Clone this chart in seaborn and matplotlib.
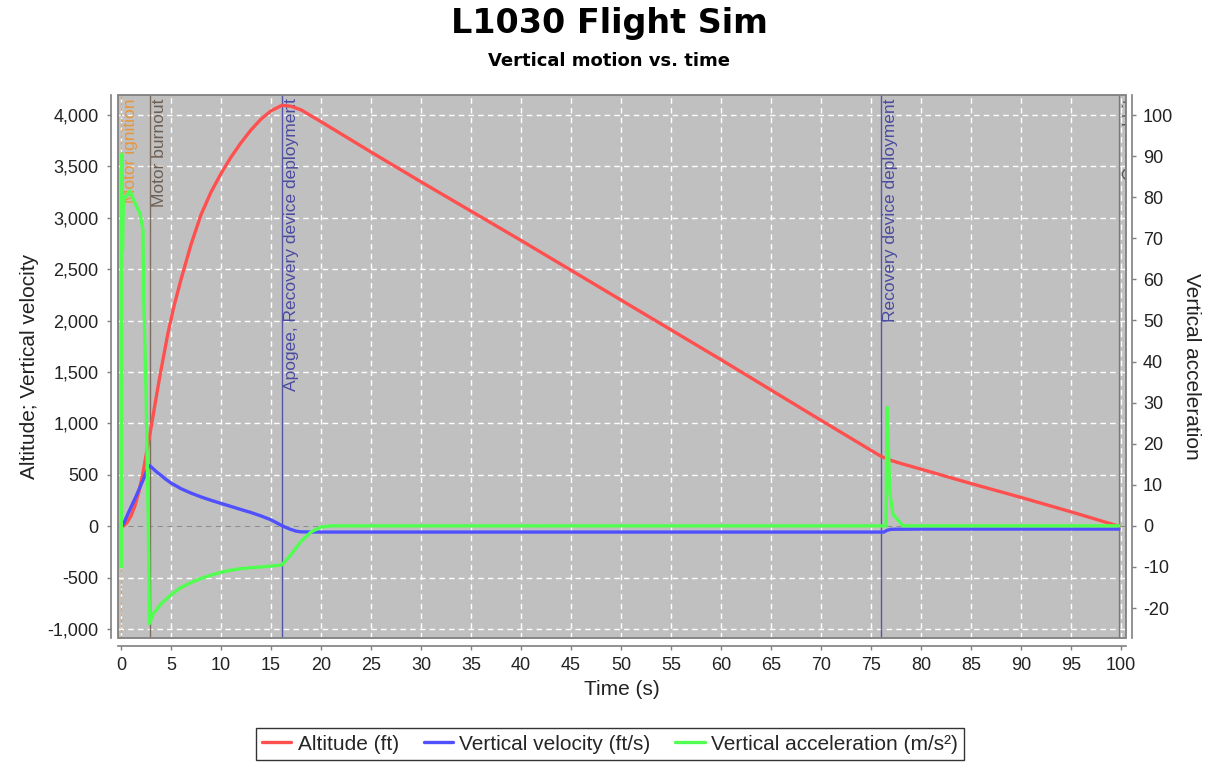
import matplotlib
matplotlib.use("Agg")
import matplotlib.pyplot as plt
import matplotlib.ticker as mticker
import matplotlib.transforms as mtransforms
from matplotlib.patches import Rectangle
from matplotlib.lines import Line2D
import pandas as pd
import seaborn as sns

# ---------------- data ----------------
alt_time = [0, 0.3, 0.6, 1.0, 1.4, 1.8, 2.2, 2.6, 2.9, 3.2, 3.6, 4.0, 4.7, 5.3, 6.0,
            7.0, 8.0, 9.0, 10.0, 11.0, 12.0, 13.0, 14.0, 15.0, 16.1, 17.0, 18.0, 20.0,
            25.0, 30.0, 40.0, 50.0, 60.0, 70.0, 76.0, 77.0, 78.0, 80.0, 85.0, 90.0,
            95.0, 99.8]
alt_ft = [0, 5, 35, 100, 200, 340, 520, 740, 900, 1070, 1300, 1520, 1880, 2140, 2400,
          2740, 3030, 3250, 3430, 3590, 3730, 3855, 3960, 4040, 4095, 4085, 4050, 3935,
          3640, 3350, 2780, 2200, 1620, 1030, 680, 640, 610, 555, 415, 280,
          140, 0]

vel_time = [0, 0.3, 0.6, 1.0, 1.5, 1.9, 2.3, 2.7, 2.9, 3.2, 3.6, 4.0, 4.5, 5.0, 6.0,
            7.0, 8.0, 9.0, 10.0, 11.0, 12.0, 13.0, 14.0, 15.0, 16.1, 16.8, 17.5, 18.0,
            20.0, 30.0, 40.0, 50.0, 60.0, 70.0, 76.3, 76.6, 77.0, 80.0, 90.0, 99.8]
vel_fts = [0, 30, 100, 185, 290, 380, 470, 570, 588, 560, 525, 495, 455, 420, 365,
           322, 285, 252, 222, 192, 162, 133, 100, 62, 5, -25, -48, -55,
           -57, -57, -57, -57, -57, -57, -57, -40, -30, -28, -28, -28]

acc_time = [0, 0.03, 0.08, 0.15, 0.25, 0.45, 0.9, 1.5, 1.9, 2.2, 2.25, 2.5, 2.73, 2.85,
            3.2, 4.0, 5.0, 6.0, 7.0, 8.0, 9.0, 10.0, 11.0, 12.0, 13.0, 14.0, 15.0, 16.1,
            17.0, 18.0, 19.0, 20.0, 21.0, 76.5, 76.6, 76.75, 76.9, 77.2, 78.2, 99.8]
acc_ms2 = [0, -10, 90.5, 67, 80, 80, 81.5, 78, 76, 72, 58, 33, 0, -23.8,
           -21.5, -19, -16.8, -15, -13.8, -12.8, -12, -11.3, -10.8, -10.4, -10.2, -10, -9.8, -9.5,
           -7, -3.8, -1.5, -0.3, 0, 0, 28.8, 18, 7.7, 2.8, 0, 0]

event_times = [0.0, 2.9, 16.1, 76.0, 99.8]
event_labels = ["Motor ignition", "Motor burnout", "Apogee, Recovery device deployment",
                "Recovery device deployment", "Ground hit"]

series_names = ["Altitude (ft)", "Vertical velocity (ft/s)", "Vertical acceleration (m/s\u00b2)"]

title = "L1030 Flight Sim"
subtitle = "Vertical motion vs. time"
x_label = "Time (s)"
y_label_left = "Altitude; Vertical velocity"
y_label_right = "Vertical acceleration"

# ---------------- styles ----------------
C_ALT = "#ff5050"
C_VEL = "#5050ff"
C_ACC = "#50ff50"
event_styles = [("#e8a35a", (0, (2, 2))), ("#7d6e62", "-"), ("#5656a8", "-"),
                ("#5656a8", "-"), ("#7a7a7a", "-")]
event_text_colors = ["#e8963c", "#6e5f54", "#4a4aa0", "#4a4aa0", "#555555"]
event_text_dx = [1.5, 1.5, 1.5, 1.5, 3.0]

sns.set_theme(style="white")
plt.rcParams["font.family"] = ["Liberation Sans", "DejaVu Sans"]
plt.rcParams["axes.unicode_minus"] = False

W, H = 1214, 765
fig = plt.figure(figsize=(W / 100, H / 100), dpi=100)
fig.subplots_adjust(left=118 / W, right=1126 / W, top=1 - 95 / H, bottom=1 - 638 / H)
ax = fig.add_subplot(111)
ax2 = ax.twinx()

ax.set_facecolor("#c0c0c0")
ax2.patch.set_visible(False)

# grid
ax.set_axisbelow(True)
ax.grid(True, color="white", linestyle=(0, (4, 3)), linewidth=1.0)

# zero line
ax.axhline(0, color="#8c8c8c", linestyle=(0, (4, 3)), linewidth=1.0, zorder=1)

# event lines + labels
blend = mtransforms.blended_transform_factory(ax.transData, ax.transAxes)
for t, lab, (col, ls), tcol, dx in zip(event_times, event_labels, event_styles,
                                       event_text_colors, event_text_dx):
    ax.axvline(t, color=col, linestyle=ls, linewidth=1.0, zorder=1.5)
    tr = mtransforms.offset_copy(blend, fig=fig, x=dx, y=-2.5, units="points")
    ax.text(t, 1, lab, transform=tr, rotation=90, va="top", ha="left",
            fontsize=12.5, color=tcol, zorder=1.6, clip_on=True)

# data lines (seaborn)
df_alt = pd.DataFrame({"t": alt_time, "v": alt_ft})
df_vel = pd.DataFrame({"t": vel_time, "v": vel_fts})
df_acc = pd.DataFrame({"t": acc_time, "v": acc_ms2})
sns.lineplot(data=df_alt, x="t", y="v", ax=ax, color=C_ALT, linewidth=2.4,
             estimator=None, sort=False, zorder=3)
sns.lineplot(data=df_vel, x="t", y="v", ax=ax, color=C_VEL, linewidth=2.4,
             estimator=None, sort=False, zorder=3)
sns.lineplot(data=df_acc, x="t", y="v", ax=ax2, color=C_ACC, linewidth=2.4,
             estimator=None, sort=False, zorder=3)

# limits
ax.set_xlim(-0.3, 100.5)
ax.set_ylim(-1087.5, 4194.6)
ax2.set_ylim(-27.3, 104.87)

ax.xaxis.set_major_locator(mticker.MultipleLocator(5))
ax.yaxis.set_major_locator(mticker.MultipleLocator(500))
ax.yaxis.set_major_formatter(mticker.FuncFormatter(lambda v, p: f"{int(round(v)):,}"))
ax2.yaxis.set_major_locator(mticker.MultipleLocator(10))
ax2.yaxis.set_major_formatter(mticker.FuncFormatter(lambda v, p: f"{int(round(v))}"))

# spines as offset axis lines
axis_col = "#7f7f7f"
for s in ["top", "right"]:
    ax.spines[s].set_visible(False)
for s in ["top", "left", "bottom"]:
    ax2.spines[s].set_visible(False)
ax.spines["left"].set_position(("outward", 5))
ax.spines["bottom"].set_position(("outward", 5.8))
ax2.spines["right"].set_position(("outward", 4.3))
for sp in [ax.spines["left"], ax.spines["bottom"], ax2.spines["right"]]:
    sp.set_color(axis_col)
    sp.set_linewidth(1.2)

ax.tick_params(axis="both", which="major", direction="out", length=3, width=1,
               color=axis_col, labelsize=13, labelcolor="#222222",
               left=True, bottom=True)
ax.tick_params(axis="y", pad=6)
ax.tick_params(axis="x", pad=5)
ax2.tick_params(axis="y", direction="out", length=3, width=1, color=axis_col,
                labelsize=13, labelcolor="#222222", right=True, pad=5)

# plot frame
ax.add_patch(Rectangle((0, 0), 1, 1, transform=ax.transAxes, fill=False,
                       edgecolor="#808080", linewidth=1.3, zorder=5, clip_on=False))

ax.set_xlabel(x_label, fontsize=15, color="#222222", labelpad=4)
ax.set_ylabel(y_label_left, fontsize=15, color="#222222", labelpad=6)
ax2.set_ylabel(y_label_right, fontsize=15, color="#222222", rotation=270, labelpad=20)

# titles
fig.text(0.502, 1 - 23 / H, title, ha="center", va="center", fontsize=24,
         fontweight="bold", family="DejaVu Sans", color="black")
fig.text(0.502, 1 - 61 / H, subtitle, ha="center", va="center", fontsize=13,
         fontweight="bold", family="DejaVu Sans", color="black")

# legend
handles = [Line2D([], [], color=c, linewidth=2.4) for c in (C_ALT, C_VEL, C_ACC)]
leg = fig.legend(handles, series_names, loc="center", bbox_to_anchor=(0.5025, 1 - 744 / H),
                 ncol=3, fontsize=15, frameon=True, fancybox=False, handlelength=1.4,
                 handletextpad=0.3, columnspacing=1.2, borderpad=0.3, borderaxespad=0)
leg.get_frame().set_edgecolor("black")
leg.get_frame().set_linewidth(1.0)

fig.savefig("out.png", dpi=100)
